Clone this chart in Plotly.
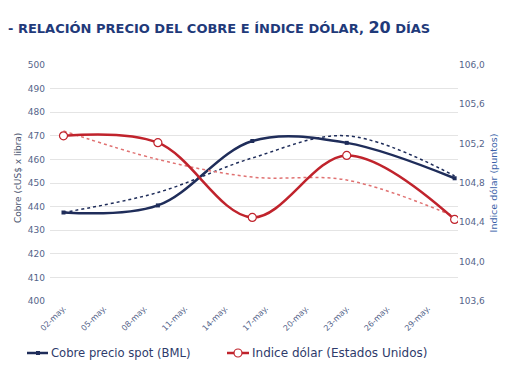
import plotly.graph_objects as go

# ---- data ----
dates = ["2019-05-02", "2019-05-09", "2019-05-16", "2019-05-23", "2019-05-31"]
cobre = [437.5, 440.5, 467.8, 467.0, 452.0]
dolar = [105.28, 105.21, 104.45, 105.08, 104.43]
cobre_trend = [437.5, 446.0, 460.6, 470.0, 453.0]
dolar_trend = [105.33, 105.04, 104.86, 104.83, 104.46]

tick_dates = ["2019-05-02", "2019-05-05", "2019-05-08", "2019-05-11", "2019-05-14",
              "2019-05-17", "2019-05-20", "2019-05-23", "2019-05-26", "2019-05-29"]
tick_labels = ["02-may.", "05-may.", "08-may.", "11-may.", "14-may.",
               "17-may.", "20-may.", "23-may.", "26-may.", "29-may."]
series_names = ["Cobre precio spot (BML)", "Indice dólar (Estados Unidos)"]

NAVY = "#1F2D5A"
RED = "#C0232C"
TICKC = "#55648A"
FONT = "DejaVu Sans"

W, H = 510, 382
ML, MR, MT, MB = 42, 60, 57, 89
PW, PH = W - ML - MR, H - MT - MB


def px(x):
    return (x - ML) / PW


def py(y):
    return (H - MB - y) / PH


fig = go.Figure()

fig.add_trace(go.Scatter(
    x=dates, y=cobre_trend, mode="lines", line=dict(color=NAVY, width=1.5, dash="dot", shape="spline"),
    showlegend=False, hoverinfo="skip"))
fig.add_trace(go.Scatter(
    x=dates, y=dolar_trend, yaxis="y2", mode="lines",
    line=dict(color="#E07272", width=1.5, dash="dot", shape="spline"),
    showlegend=False, hoverinfo="skip"))

fig.add_trace(go.Scatter(
    x=dates, y=cobre, name=series_names[0], mode="lines+markers",
    line=dict(color=NAVY, width=2.5, shape="spline"),
    marker=dict(symbol="square", size=4, color=NAVY), showlegend=False))
fig.add_trace(go.Scatter(
    x=dates, y=dolar, name=series_names[1], yaxis="y2", mode="lines+markers",
    line=dict(color=RED, width=2.5, shape="spline"),
    marker=dict(symbol="circle", size=8, color="white", line=dict(color=RED, width=1.2)),
    showlegend=False))

fig.update_layout(
    width=W, height=H,
    margin=dict(l=ML, r=MR, t=MT, b=MB, autoexpand=False),
    paper_bgcolor="white", plot_bgcolor="white",
    separators=",.",
    font=dict(family=FONT, size=9, color=TICKC),
    title=dict(
        text="<b>- RELACIÓN PRECIO DEL COBRE E ÍNDICE DÓLAR, <span style='font-size:16px'>20</span> DÍAS</b>",
        xref="container", yref="container", x=0, xanchor="left", y=1 - 20 / H, yanchor="middle",
        pad=dict(l=0, r=0, t=0, b=0),
        font=dict(family=FONT, size=13, color="#1F3A7A")),
    xaxis=dict(
        type="date", range=["2019-05-01", "2019-05-31 06:00"],
        tickvals=tick_dates, ticktext=tick_labels, tickangle=-45,
        tickfont=dict(size=8, color=TICKC), showgrid=False, showline=False, ticks="",
        zeroline=False),
    yaxis=dict(
        range=[400, 500], dtick=10, showgrid=True, gridcolor="#E4E4E4", gridwidth=1,
        tickfont=dict(size=9, color=TICKC, family=FONT), zeroline=False, ticks="",
        showline=False, ticklabelstandoff=4),
    yaxis2=dict(
        range=[103.6, 106.0], dtick=0.4, tickformat=".1f", overlaying="y", side="right",
        showgrid=False, tickfont=dict(size=9, color=TICKC, family=FONT), zeroline=False,
        ticks="", showline=False, ticklabelstandoff=0, automargin=False,
        title=dict(text="Indice dólar (puntos)", standoff=6,
                   font=dict(family=FONT, size=9.5, color="#3A5FA8"))),
    showlegend=False,
)

# manual legend
LY = 345
fig.add_shape(type="line", xref="paper", yref="paper", x0=px(19), x1=px(40), y0=py(LY), y1=py(LY),
              line=dict(color=NAVY, width=2.5))
fig.add_shape(type="rect", xref="paper", yref="paper", x0=px(28), x1=px(32), y0=py(LY + 2), y1=py(LY - 2),
              line=dict(color=NAVY, width=0), fillcolor=NAVY)
fig.add_annotation(xref="paper", yref="paper", x=px(41), y=py(LY), xanchor="left", yanchor="middle",
                   showarrow=False, text=series_names[0],
                   font=dict(family=FONT, size=11.6, color="#2E3B6B"))
fig.add_shape(type="line", xref="paper", yref="paper", x0=px(219), x1=px(241), y0=py(LY), y1=py(LY),
              line=dict(color=RED, width=2.5))
fig.add_shape(type="circle", xref="paper", yref="paper", x0=px(226), x1=px(234), y0=py(LY + 4), y1=py(LY - 4),
              line=dict(color=RED, width=1.2), fillcolor="white")
fig.add_annotation(xref="paper", yref="paper", x=px(242), y=py(LY), xanchor="left", yanchor="middle",
                   showarrow=False, text=series_names[1],
                   font=dict(family=FONT, size=12, color="#2E3B6B"))

fig.add_annotation(
    xref="paper", yref="paper", x=px(10), y=py(170), xanchor="center", yanchor="middle",
    showarrow=False, textangle=-90, text="Cobre (cUS$ x libra)",
    font=dict(family=FONT, size=9, color="#4A5570"))

fig.write_html("out.html")
